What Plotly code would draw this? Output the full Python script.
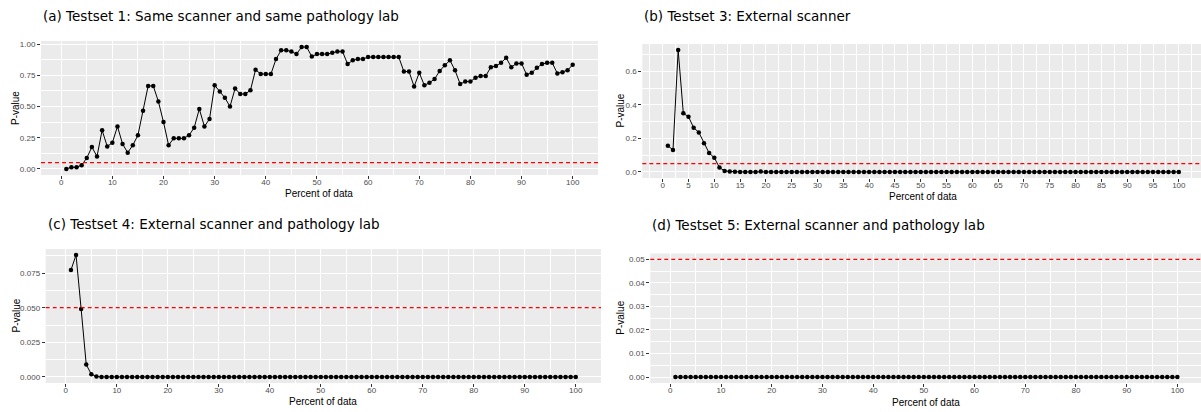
import plotly.graph_objects as go

# ---------------- data ----------------
percent = list(range(1, 101))

pval_testset1 = [
    0.000, 0.013, 0.013, 0.030, 0.088, 0.175, 0.100, 0.310, 0.180, 0.210,
    0.340, 0.200, 0.130, 0.190, 0.270, 0.465, 0.665, 0.665, 0.540, 0.375,
    0.190, 0.245, 0.245, 0.245, 0.270, 0.330, 0.480, 0.340, 0.400, 0.670,
    0.620, 0.570, 0.500, 0.645, 0.600, 0.600, 0.630, 0.795, 0.760, 0.760,
    0.760, 0.880, 0.950, 0.950, 0.940, 0.920, 0.976, 0.976, 0.900, 0.920,
    0.920, 0.920, 0.930, 0.940, 0.940, 0.840, 0.870, 0.880, 0.880, 0.896,
    0.896, 0.896, 0.896, 0.896, 0.896, 0.896, 0.780, 0.780, 0.660, 0.770,
    0.670, 0.690, 0.720, 0.785, 0.830, 0.870, 0.790, 0.680, 0.700, 0.700,
    0.730, 0.745, 0.745, 0.815, 0.825, 0.850, 0.890, 0.815, 0.845, 0.845,
    0.755, 0.770, 0.810, 0.840, 0.850, 0.850, 0.765, 0.775, 0.790, 0.835,
]

pval_testset3 = [
    0.157, 0.131, 0.728, 0.350, 0.330, 0.264, 0.236, 0.171, 0.113, 0.085,
    0.026, 0.006, 0.002, 0.001, 0.0, 0.0, 0.0, 0.0, 0.002, 0.0,
    0.0, 0.0, 0.0, 0.0, 0.0, 0.0, 0.0, 0.0, 0.0, 0.0,
    0.0, 0.0, 0.0, 0.0, 0.0, 0.0, 0.0, 0.0, 0.0, 0.0,
    0.0, 0.0, 0.0, 0.0, 0.0, 0.0, 0.0, 0.0, 0.0, 0.0,
    0.0, 0.0, 0.0, 0.0, 0.0, 0.0, 0.0, 0.0, 0.0, 0.0,
    0.0, 0.0, 0.0, 0.0, 0.0, 0.0, 0.0, 0.0, 0.0, 0.0,
    0.0, 0.0, 0.0, 0.0, 0.0, 0.0, 0.0, 0.0, 0.0, 0.0,
    0.0, 0.0, 0.0, 0.0, 0.0, 0.0, 0.0, 0.0, 0.0, 0.0,
    0.0, 0.0, 0.0, 0.0, 0.0, 0.0, 0.0, 0.0, 0.0, 0.0,
]

pval_testset4 = [
    0.0772, 0.0880, 0.0491, 0.0089, 0.0019, 0.0003, 0.0, 0.0, 0.0, 0.0,
    0.0, 0.0, 0.0, 0.0, 0.0, 0.0, 0.0, 0.0, 0.0, 0.0,
    0.0, 0.0, 0.0, 0.0, 0.0, 0.0, 0.0, 0.0, 0.0, 0.0,
    0.0, 0.0, 0.0, 0.0, 0.0, 0.0, 0.0, 0.0, 0.0, 0.0,
    0.0, 0.0, 0.0, 0.0, 0.0, 0.0, 0.0, 0.0, 0.0, 0.0,
    0.0, 0.0, 0.0, 0.0, 0.0, 0.0, 0.0, 0.0, 0.0, 0.0,
    0.0, 0.0, 0.0, 0.0, 0.0, 0.0, 0.0, 0.0, 0.0, 0.0,
    0.0, 0.0, 0.0, 0.0, 0.0, 0.0, 0.0, 0.0, 0.0, 0.0,
    0.0, 0.0, 0.0, 0.0, 0.0, 0.0, 0.0, 0.0, 0.0, 0.0,
    0.0, 0.0, 0.0, 0.0, 0.0, 0.0, 0.0, 0.0, 0.0, 0.0,
]

pval_testset5 = [
    0.0, 0.0, 0.0, 0.0, 0.0, 0.0, 0.0, 0.0, 0.0, 0.0,
    0.0, 0.0, 0.0, 0.0, 0.0, 0.0, 0.0, 0.0, 0.0, 0.0,
    0.0, 0.0, 0.0, 0.0, 0.0, 0.0, 0.0, 0.0, 0.0, 0.0,
    0.0, 0.0, 0.0, 0.0, 0.0, 0.0, 0.0, 0.0, 0.0, 0.0,
    0.0, 0.0, 0.0, 0.0, 0.0, 0.0, 0.0, 0.0, 0.0, 0.0,
    0.0, 0.0, 0.0, 0.0, 0.0, 0.0, 0.0, 0.0, 0.0, 0.0,
    0.0, 0.0, 0.0, 0.0, 0.0, 0.0, 0.0, 0.0, 0.0, 0.0,
    0.0, 0.0, 0.0, 0.0, 0.0, 0.0, 0.0, 0.0, 0.0, 0.0,
    0.0, 0.0, 0.0, 0.0, 0.0, 0.0, 0.0, 0.0, 0.0, 0.0,
    0.0, 0.0, 0.0, 0.0, 0.0, 0.0, 0.0, 0.0, 0.0, 0.0,
]

threshold = 0.05

titles = [
    "(a) Testset 1: Same scanner and same pathology lab",
    "(b) Testset 3: External scanner",
    "(c) Testset 4: External scanner and pathology lab",
    "(d) Testset 5: External scanner and pathology lab",
]
x_title = "Percent of data"
y_title = "P-value"

# ---------------- layout geometry (pixels) ----------------
W, H = 1201, 412


def fx(p):
    return p / W


def fy(p):
    return 1 - p / H


panels = [
    dict(vals=pval_testset1, left=41, right=598, top=41, bottom=175,
         xr=[-3.95, 104.95], xd=10, xm=5, yd=0.25, ym=0.125, yfmt=".2f",
         tx=41, ty=16, ytx=15, xtx=319.5, xty=193),
    dict(vals=pval_testset3, left=642.3, right=1201, top=44, bottom=178,
         xr=[-3.95, 104.3], xd=5, xm=2.5, yd=0.2, ym=0.1, yfmt=".1f",
         tx=642.3, ty=16, ytx=619.5, xtx=923, xty=196),
    dict(vals=pval_testset4, left=45.7, right=601, top=249, bottom=383,
         xr=[-3.95, 104.95], xd=10, xm=5, yd=0.025, ym=0.0125, yfmt=".3f",
         tx=45.7, ty=223.5, ytx=15.5, xtx=323, xty=401),
    dict(vals=pval_testset5, left=650.3, right=1201, top=253.4, bottom=383,
         xr=[-3.95, 104.66], xd=10, xm=5, yd=0.01, ym=0.005, yfmt=".2f",
         tx=650.3, ty=224.5, ytx=620.5, xtx=926, xty=402.5),
]

fig = go.Figure()
annotations = []
shapes = []
tickfont = dict(family="Liberation Sans, Arial, sans-serif", size=8, color="#4D4D4D")

for i, p in enumerate(panels):
    n = "" if i == 0 else str(i + 1)
    xa, ya = "x" + n, "y" + n
    vmax = max(max(p["vals"]), threshold)
    vmin = min(min(p["vals"]), 0)
    pad = (vmax - vmin) * 0.05
    yr = [vmin - pad, vmax + pad]

    fig.add_trace(go.Scatter(
        x=percent, y=p["vals"], mode="lines+markers",
        line=dict(color="black", width=1),
        marker=dict(color="black", size=4.5),
        xaxis=xa, yaxis=ya, showlegend=False, hoverinfo="x+y"))

    common = dict(
        showgrid=True, gridcolor="white", gridwidth=1.1, zeroline=False,
        ticks="outside", ticklen=3, tickwidth=1, tickcolor="#333333",
        tickfont=tickfont, showline=False, fixedrange=True,
    )
    fig.layout["xaxis" + n] = dict(
        common, domain=[fx(p["left"]), fx(p["right"])], range=p["xr"],
        anchor=ya, tick0=0, dtick=p["xd"], ticklabelstandoff=-4,
        minor=dict(tick0=0, dtick=p["xm"], showgrid=True, gridcolor="white",
                   gridwidth=0.55, ticks=""),
    )
    fig.layout["yaxis" + n] = dict(
        common, domain=[fy(p["bottom"]), fy(p["top"])], range=yr,
        anchor=xa, tick0=0, dtick=p["yd"], tickformat=p["yfmt"],
        minor=dict(tick0=0, dtick=p["ym"], showgrid=True, gridcolor="white",
                   gridwidth=0.55, ticks=""),
    )

    shapes.append(dict(type="line", xref=xa + " domain", yref=ya,
                       x0=0, x1=1, y0=threshold, y1=threshold,
                       line=dict(color="#FF0000", width=1.2, dash="4px,3px")))

    annotations.append(dict(
        text=titles[i], xref="paper", yref="paper", x=fx(p["tx"]), y=fy(p["ty"]),
        xanchor="left", yanchor="middle", showarrow=False,
        font=dict(family="DejaVu Sans", size=13.5, color="black")))
    annotations.append(dict(
        text=y_title, xref="paper", yref="paper", x=fx(p["ytx"]),
        y=fy((p["top"] + p["bottom"]) / 2), textangle=-90,
        xanchor="center", yanchor="middle", showarrow=False,
        font=dict(family="Liberation Sans, Arial, sans-serif", size=10, color="black")))
    annotations.append(dict(
        text=x_title, xref="paper", yref="paper", x=fx(p["xtx"]), y=fy(p["xty"]),
        xanchor="center", yanchor="middle", showarrow=False,
        font=dict(family="Liberation Sans, Arial, sans-serif", size=10, color="black")))

fig.update_layout(
    width=W, height=H, margin=dict(l=0, r=0, t=0, b=0),
    paper_bgcolor="white", plot_bgcolor="#EBEBEB",
    annotations=annotations, shapes=shapes, showlegend=False,
)

fig.write_html("out.html", config={"displayModeBar": False},
               post_script="document.body.style.margin='0px';document.body.style.padding='0px';")
